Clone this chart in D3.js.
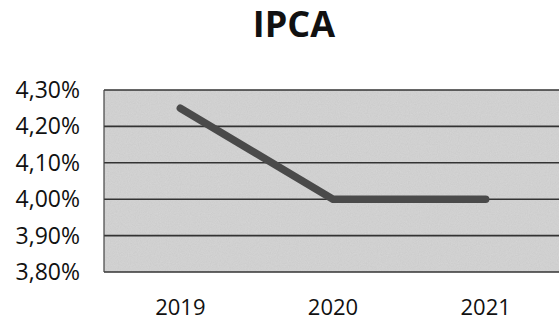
<!DOCTYPE html>
<html>
<head>
<meta charset="utf-8">
<script src="https://cdn.jsdelivr.net/npm/d3@7"></script>
<style>
  body { margin: 0; background: #fff; }
  svg { display: block; }
  text { font-family: "Open Sans", sans-serif; fill: #111; }
</style>
</head>
<body>
<svg width="559" height="323"></svg>
<script>
const years = ["2019", "2020", "2021"];
const ipca = [4.25, 4.00, 4.00];
const yTicks = [3.8, 3.9, 4.0, 4.1, 4.2, 4.3];

const margin = { top: 90, right: -3, bottom: 51, left: 104 },
  width = 559 - margin.left - margin.right,
  height = 323 - margin.top - margin.bottom;

const svg = d3.select('svg');

const defs = svg.append('defs');
const grain = defs.append('filter').attr('id', 'grain')
  .attr('x', 0).attr('y', 0).attr('width', 1).attr('height', 1);
grain.append('feTurbulence')
  .attr('type', 'fractalNoise')
  .attr('baseFrequency', 0.9)
  .attr('numOctaves', 2)
  .attr('result', 'noise');
grain.append('feColorMatrix')
  .attr('type', 'matrix')
  .attr('values', '0 0 0 0 0  0 0 0 0 0  0 0 0 0 0  0 0 0 0.12 0')
  .attr('result', 'dots');
grain.append('feComposite').attr('in', 'dots').attr('in2', 'SourceGraphic').attr('operator', 'over');

svg.append('text')
  .attr('x', 294)
  .attr('y', 37)
  .attr('text-anchor', 'middle')
  .attr('font-weight', 'bold')
  .attr('font-size', 36)
  .text('IPCA');

const g = svg.append('g')
  .attr('transform', `translate(${margin.left},${margin.top})`);

const x = d3.scalePoint()
  .domain(years)
  .range([0, width])
  .padding(0.5);

const y = d3.scaleLinear()
  .domain([3.8, 4.3])
  .range([height, 0]);

g.append('rect')
  .attr('width', width)
  .attr('height', height)
  .attr('fill', '#d6d6d6')
  .attr('filter', 'url(#grain)');

g.selectAll('.grid')
  .data(yTicks)
  .enter()
  .append('line')
  .attr('class', 'grid')
  .attr('x1', 0)
  .attr('x2', width)
  .attr('y1', d => y(d))
  .attr('y2', d => y(d))
  .attr('stroke', '#333')
  .attr('stroke-width', 1.6);

g.append('line')
  .attr('x1', 0).attr('x2', 0)
  .attr('y1', 0).attr('y2', height)
  .attr('stroke', '#444')
  .attr('stroke-width', 1.2);

const fmt = d => d.toFixed(2).replace('.', ',') + '%';

g.selectAll('.ylabel')
  .data(yTicks)
  .enter()
  .append('text')
  .attr('class', 'ylabel')
  .attr('x', -24)
  .attr('y', d => y(d))
  .attr('dy', '0.35em')
  .attr('text-anchor', 'end')
  .attr('font-size', 23)
  .text(fmt);

g.selectAll('.xlabel')
  .data(years)
  .enter()
  .append('text')
  .attr('class', 'xlabel')
  .attr('x', d => x(d))
  .attr('y', height + 43)
  .attr('text-anchor', 'middle')
  .attr('font-size', 22)
  .text(d => d);

const line = d3.line()
  .x((d, i) => x(years[i]))
  .y(d => y(d));

g.append('path')
  .datum(ipca)
  .attr('d', line)
  .attr('fill', 'none')
  .attr('stroke', '#4a4a4a')
  .attr('stroke-width', 7.5)
  .attr('stroke-linecap', 'round')
  .attr('stroke-linejoin', 'round');
</script>
</body>
</html>
